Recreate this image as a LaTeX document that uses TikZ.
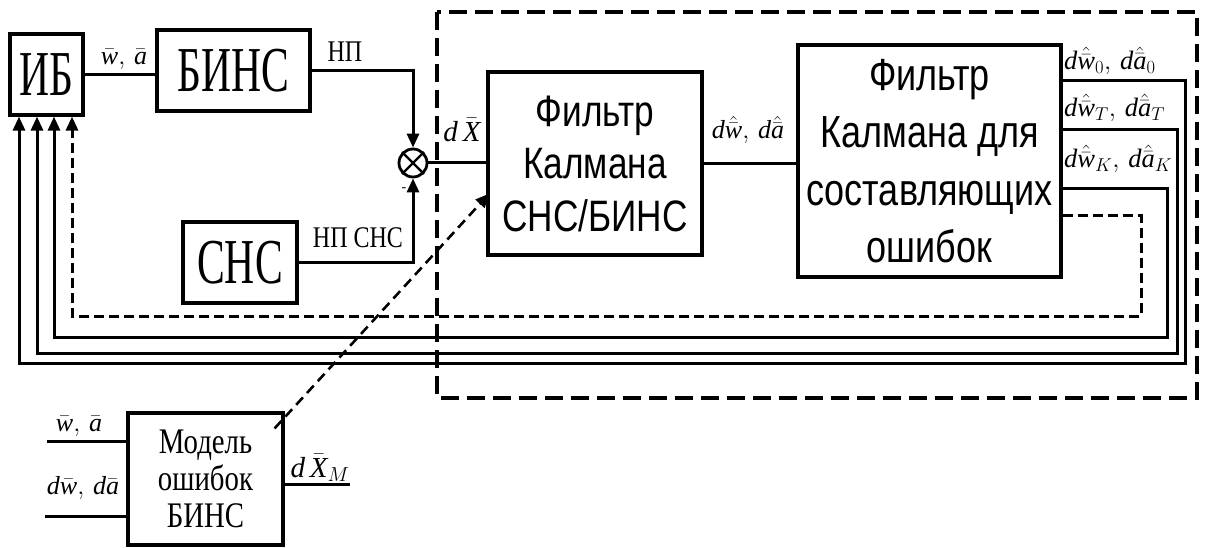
\RequirePackage{fix-cm}
\documentclass[tikz,border=0pt]{standalone}
\usepackage{fontspec}
\setmainfont{Liberation Serif}
\newfontfamily\narrowSerif[FakeStretch=0.65]{Liberation Serif}
\newfontfamily\condSerif[FakeStretch=0.8]{Liberation Serif}
\newfontfamily\narrowSans[FakeStretch=0.8]{Liberation Sans}
\newcommand{\ti}[1]{\mbox{\itshape #1}}
\usetikzlibrary{arrows.meta}

\begin{document}
\begin{tikzpicture}[
      x=1pt, y=-1pt,
      blk/.style={rectangle, draw, line width=3.2pt, inner sep=0pt, align=center},
      bigtxt/.style={blk, font=\narrowSerif\fontsize{64}{64}\selectfont},
      kftxt/.style={blk, font=\narrowSans\fontsize{44}{52.5}\selectfont},
      modtxt/.style={blk, font=\condSerif\fontsize{36}{37}\selectfont},
      smalltxt/.style={font=\condSerif\fontsize{30}{30}\selectfont, inner sep=0pt},
      lbl/.style={font=\fontsize{26}{28}\selectfont, inner sep=0pt},
      outlbl/.style={lbl, anchor=west, font=\fontsize{26.5}{29}\selectfont},
      wire/.style={line width=3pt},
      arr/.style={wire, -{Triangle[length=14pt, width=12pt]}},
      fb/.style={arr},
      fbdash/.style={arr, dash pattern=on 10pt off 5pt},
      frame/.style={line width=3.2pt, dash pattern=on 18pt off 8pt}
    ]
    \useasboundingbox (0,0) rectangle (1205,548);

    % blocks
    \node[bigtxt, minimum width=73pt, minimum height=81pt] (ib) at (46.5,74.5) {ИБ};
    \node[bigtxt, minimum width=153pt, minimum height=81pt] (bins) at (233.5,70.5) {БИНС};
    \node[bigtxt, minimum width=114pt, minimum height=81pt] (sns) at (240,262.5) {СНС};
    \node[circle, draw, line width=2.8pt, minimum size=28pt, inner sep=0pt] (sum) at (413,163) {};
    \draw[line width=2.4pt] (sum.north east) -- (sum.south west) (sum.north west) -- (sum.south east);
    \node[kftxt, minimum width=214pt, minimum height=183pt] (kf1) at (595,163.5) {Фильтр\\Калмана\\СНС/БИНС};
    \node[kftxt, minimum width=263pt, minimum height=232pt, font=\narrowSans\fontsize{45}{57.5}\selectfont] (kf2) at (929.5,161) {Фильтр\\Калмана для\\составляющих\\ошибок};
    \node[modtxt, minimum width=155pt, minimum height=132pt] (model) at (205.5,479) {Модель\\ошибок\\БИНС};

    % dashed frame
    \draw[frame] (437,12) rectangle (1197,398);

    % signals
    \draw[wire] (ib.east) -- (ib.east -| bins.west);
    \draw[arr] (bins.east) -| (sum.north);
    \draw[arr] (sns.east) -| (sum.south);
    \draw[wire] (sum.east) -- (sum.east -| kf1.west);
    \draw[wire] (kf1.east) -- (kf1.east -| kf2.west);

    % feedback to IB
    \foreach \yo/\xr/\yb/\xl in {81/1185/363/19, 130/1177/353/37, 189/1167/337/54}
      \draw[fb] (kf2.east |- 0,\yo) -| (\xr,\yb) -| (ib.south -| \xl,0);
    \draw[fbdash] (kf2.east |- 0,216) -| (1141,316) -| (ib.south -| 72,0);

    % error model
    \coordinate (inwa) at (47,441);
    \coordinate (indwa) at (45,516);
    \coordinate (outdx) at (350,484);
    \draw[wire] (inwa) -- (inwa -| model.west);
    \draw[wire] (indwa) -- (indwa -| model.west);
    \draw[wire] (outdx -| model.east) -- (outdx);
    \draw[line width=2.6pt, dash pattern=on 10pt off 6pt, -{Triangle[length=14pt, width=12pt]}]
      ([xshift=-10pt, yshift=-17pt]model.north east) -- ([xshift=3pt, yshift=-30pt]kf1.west);

    % labels
    \node[lbl] (lwa) at (124,59) {$\bar{\ti{w}},\,\bar{\ti{a}}$};
    \node[smalltxt] (lnp) at (345,52) {НП};
    \node[smalltxt] (lnpsns) at (358,238) {НП СНС};
    \node[font=\fontsize{14}{14}\selectfont, inner sep=0pt] (lminus) at (404,190) {-};
    \node[lbl, font=\fontsize{29}{32}\selectfont] (ldx) at (462,130) {$\ti{d}\,\bar{\ti{X}}$};
    \node[lbl] (ldwa) at (748,130) {$\ti{d}\hat{\bar{\ti{w}}},\,\ti{d}\hat{\bar{\ti{a}}}$};
    \node[outlbl] (lout0) at (1064,61) {$\ti{d}\hat{\bar{\ti{w}}}_0,\,\ti{d}\hat{\bar{\ti{a}}}_0$};
    \node[outlbl] (loutt) at (1064,108) {$\ti{d}\hat{\bar{\ti{w}}}_T,\,\ti{d}\hat{\bar{\ti{a}}}_T$};
    \node[outlbl] (loutk) at (1064,159) {$\ti{d}\hat{\bar{\ti{w}}}_K,\,\ti{d}\hat{\bar{\ti{a}}}_K$};
    \node[lbl] (linwa) at (79,426) {$\bar{\ti{w}},\,\bar{\ti{a}}$};
    \node[lbl] (lindwa) at (83,488) {$\ti{d}\bar{\ti{w}},\,\ti{d}\bar{\ti{a}}$};
    \node[lbl, font=\fontsize{29}{32}\selectfont] (loutdx) at (320,468) {$\ti{d}\,\bar{\ti{X}}_M$};
  \end{tikzpicture}
\end{document}
